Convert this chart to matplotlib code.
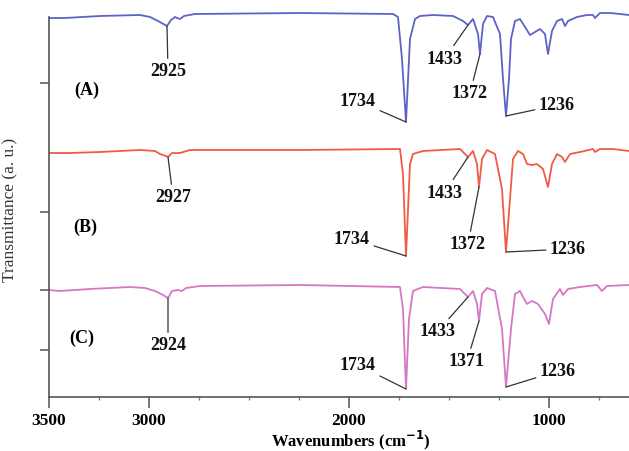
import matplotlib
matplotlib.use("Agg")
import matplotlib.pyplot as plt
import numpy as np

plt.rcParams['font.family'] = ['Liberation Serif', 'DejaVu Serif']

# spectrum (A)
wn_a = [3500, 3420, 3245, 3045, 2995, 2955, 2910, 2890, 2870, 2860, 2845, 2825, 2770,
        2245, 1780, 1755, 1735, 1715, 1695, 1670, 1645, 1580, 1480, 1430, 1405, 1380,
        1355, 1345, 1330, 1310, 1280, 1245, 1230, 1215, 1200, 1190, 1170, 1145, 1120,
        1095, 1070, 1045, 1020, 1005, 985, 960, 935, 920, 905, 860, 810, 780, 770, 745,
        695, 645, 600]
tr_a = [379, 379, 381, 382, 380, 376, 371, 377, 380, 379, 378, 381, 383,
        384, 383, 380, 338, 275, 358, 378, 381, 382, 381, 376, 372, 378,
        363, 343, 373, 381, 380, 363, 318, 281, 318, 358, 376, 378, 370,
        362, 365, 368, 363, 343, 366, 376, 378, 371, 376, 380, 382, 382, 379, 384,
        384, 383, 382]

# spectrum (B)
wn_b = [3500, 3395, 3245, 3045, 2970, 2945, 2915, 2905, 2885, 2845, 2795, 2245, 1745,
        1730, 1715, 1695, 1680, 1630, 1445, 1420, 1405, 1380, 1360, 1350, 1335, 1310,
        1270, 1235, 1215, 1195, 1180, 1155, 1130, 1110, 1085, 1060, 1030, 1005, 985,
        960, 935, 920, 895, 845, 780, 770, 745, 680, 600]
tr_b = [244, 244, 245, 247, 246, 243, 241, 240, 244, 244, 247, 247, 248,
        223, 141, 233, 243, 246, 248, 243, 240, 246, 233, 210, 238, 247,
        243, 208, 145, 198, 238, 246, 243, 233, 232, 233, 228, 210, 233,
        243, 240, 235, 243, 245, 248, 245, 248, 248, 246]

# spectrum (C)
wn_c = [3500, 3445, 3295, 3095, 3020, 2970, 2930, 2905, 2885, 2855, 2835, 2815, 2745,
        2245, 1745, 1730, 1715, 1700, 1680, 1630, 1445, 1420, 1405, 1380, 1360, 1350,
        1335, 1310, 1270, 1235, 1215, 1190, 1170, 1145, 1130, 1110, 1085, 1055, 1020,
        1000, 980, 945, 930, 905, 845, 760, 735, 710, 600]
tr_c = [107, 106, 108, 110, 109, 106, 102, 99, 106, 107, 106, 109, 111,
        112, 110, 88, 8, 78, 106, 110, 108, 103, 100, 106, 93, 76,
        103, 109, 106, 68, 10, 68, 103, 106, 100, 93, 96, 93, 83,
        73, 98, 108, 102, 108, 110, 112, 106, 111, 112]

# peak labels: (text, wavenumber on the curve, text x, text y)
peaks_a = [('2925', 2910, 2905, 326), ('1734', 1715, 1955, 296), ('1433', 1405, 1520, 339),
           ('1372', 1345, 1395, 304), ('1236', 1215, 960, 292)]
peaks_b = [('2927', 2905, 2880, 200), ('1734', 1715, 1985, 158), ('1433', 1405, 1520, 205),
           ('1372', 1350, 1405, 153), ('1236', 1215, 905, 148)]
peaks_c = [('2924', 2905, 2905, 52), ('1734', 1715, 1955, 32), ('1433', 1405, 1555, 66),
           ('1371', 1350, 1410, 36), ('1236', 1215, 955, 26)]

fig = plt.figure(figsize=(6.29, 4.52), dpi=100)
ax = fig.add_axes([49 / 629, 54 / 452, 580 / 629, 388 / 452])

series = [(wn_a, tr_a, '#5c63c6', peaks_a, '(A)', 3310, 308),
          (wn_b, tr_b, '#ef5b45', peaks_b, '(B)', 3320, 171),
          (wn_c, tr_c, '#d677c6', peaks_c, '(C)', 3335, 60)]

for wn, tr, col, peaks, name, nx, ny in series:
    ax.plot(wn, tr, color=col, lw=1.3)
    ax.text(nx, ny, name, fontsize=13, fontweight='bold', ha='center', va='center')
    wn_sorted = np.array(wn)[::-1]
    tr_sorted = np.array(tr)[::-1]
    for lab, w, tx, ty in peaks:
        yv = np.interp(w, wn_sorted, tr_sorted)
        ax.annotate(lab, xy=(w, yv), xytext=(tx, ty), fontsize=13, fontweight='bold',
                    ha='center', va='center', color='#111111',
                    arrowprops=dict(arrowstyle='-', color='#333333', lw=0.9,
                                    shrinkA=1, shrinkB=0))

ax.set_xlim(3500, 600)
ax.set_ylim(0, 388)

ax.spines['top'].set_visible(False)
ax.spines['right'].set_visible(False)
ax.spines['left'].set_bounds(0, 380)
for s in ['left', 'bottom']:
    ax.spines[s].set_color('#555555')
    ax.spines[s].set_linewidth(1.2)

ax.set_xticks([3500, 3000, 2000, 1000])
ax.set_xticks([3250, 2750, 2500, 2250, 1750, 1500, 1250, 750], minor=True)
ax.set_xticklabels(['3500', '3000', '2000', '1000'], fontsize=12.5, fontweight='bold')
ax.tick_params(axis='x', which='major', direction='out', length=8, width=1.1,
               color='#555555', pad=3)
ax.tick_params(axis='x', which='minor', direction='out', length=2.5, width=0.9,
               color='#777777')
ax.set_yticks([314, 185, 107, 47])
ax.set_yticklabels([])
ax.tick_params(axis='y', direction='out', length=6.5, width=1.1, color='#555555')

ax.set_xlabel('Wavenumbers (cm$^{\\mathbf{-1}}$)', fontsize=12, fontweight='bold',
              va='baseline')
ax.xaxis.set_label_coords(0.52, -0.124)
ax.set_ylabel('Transmittance (a. u.)', fontsize=12.5, color='#333333')
ax.yaxis.set_label_coords(-0.053, 0.485)

fig.savefig('out.png', dpi=100)
